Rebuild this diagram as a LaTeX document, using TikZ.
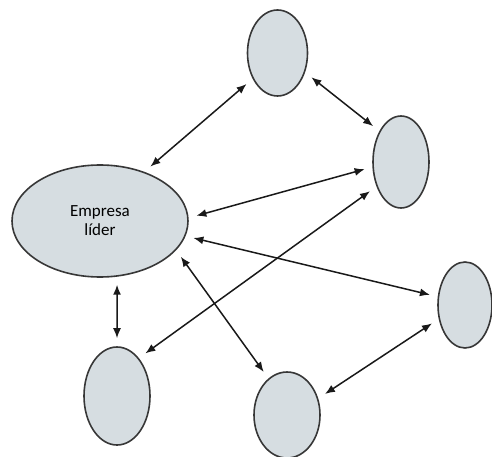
\documentclass[tikz,border=0pt]{standalone}
\usepackage{fontspec}
\setmainfont{Carlito}
\usetikzlibrary{shapes.geometric,arrows.meta}
\definecolor{nodefill}{RGB}{214,221,225}
\definecolor{nodeline}{RGB}{55,55,55}
\definecolor{linkline}{RGB}{25,25,25}
\tikzset{
  firm/.style={ellipse, draw=nodeline, fill=nodefill, line width=1.6pt, inner sep=0pt},
  link/.style={draw=linkline, line width=1.5pt,
    {Latex[length=10pt,width=8pt]}-{Latex[length=10pt,width=8pt]},
    shorten <=8pt, shorten >=8pt}
}
\begin{document}
\begin{tikzpicture}[x=1pt,y=-1pt]
  \useasboundingbox (0,0) rectangle (492,457);
  % lead firm and its partners
  \node[firm, minimum width=176pt, minimum height=112pt, align=center,
        font=\fontsize{17}{19}\selectfont] (lead) at (100,221) {Empresa\\líder};
  \node[firm, minimum width=60pt, minimum height=86pt] (top) at (277.5,53) {};
  \node[firm, minimum width=56pt, minimum height=92pt] (right) at (401,162) {};
  \node[firm, minimum width=54pt, minimum height=86pt] (far) at (465,305) {};
  \node[firm, minimum width=66pt, minimum height=98pt] (bl) at (117,396) {};
  \node[firm, minimum width=66pt, minimum height=86pt] (bm) at (287,415) {};
  % two-way links
  \draw[link] (lead.48) -- (top.226);
  \draw[link] (top.325) -- (right.125);
  \draw[link] (lead.2) -- (right.190);
  \draw[link] (bl.60) -- (right.225);
  \draw[link] (lead.-10) -- (far.163);
  \draw[link] (lead.-21) -- (bm.117);
  \draw[link] (lead.-73) -- (bl.north);
  \draw[link] (bm.28) -- (far.208);
\end{tikzpicture}
\end{document}
